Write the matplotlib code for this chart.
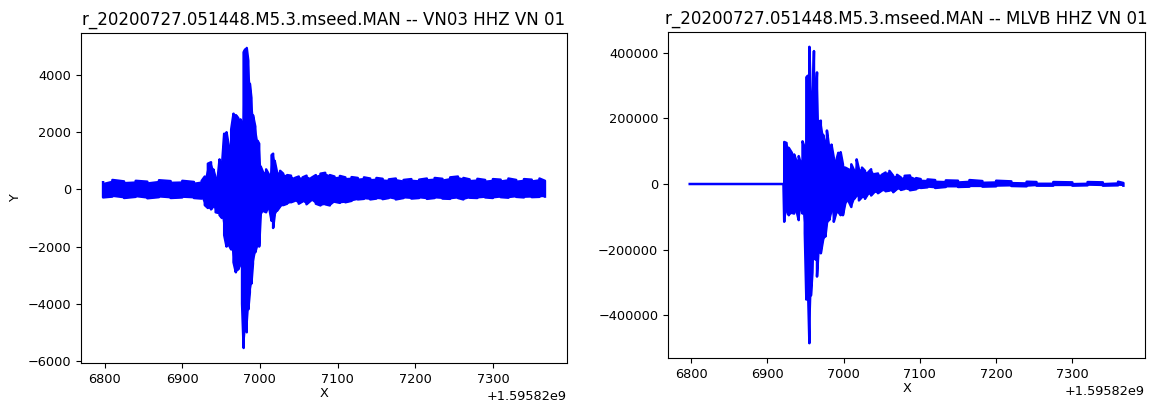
"""Seismogram envelopes, VN03 and MLVB"""

import matplotlib.pyplot as plt
import numpy as np

offset = 1.59582e9

# VN03 HHZ: time (s after offset), upper and lower envelope
t_vn03 = [6798, 6810, 6825, 6840, 6855, 6870, 6885, 6900, 6915, 6925,
          6929, 6933, 6937, 6940, 6943, 6946, 6948, 6951, 6954, 6957,
          6960, 6963, 6966, 6969, 6972, 6975, 6977, 6979, 6981, 6983,
          6985, 6987, 6989, 6991, 6994, 6997, 6999, 7001, 7004, 7008,
          7012, 7015, 7017, 7019, 7022, 7026, 7030, 7035, 7040, 7045,
          7050, 7055, 7060, 7066, 7072, 7078, 7084, 7090, 7096, 7103,
          7110, 7118, 7126, 7134, 7142, 7150, 7158, 7166, 7175, 7185,
          7195, 7205, 7215, 7225, 7235, 7245, 7255, 7262, 7270, 7280,
          7290, 7300, 7310, 7320, 7330, 7340, 7350, 7360, 7367]
hi_vn03 = [250, 330, 280, 300, 270, 320, 290, 300, 260, 300,
           450, 900, 950, 700, 400, 500, 1050, 800, 1950, 2000,
           1500, 2100, 2650, 2600, 2500, 2450, 2300, 4800, 4900, 4950,
           4500, 3700, 3200, 2600, 2200, 1700, 1600, 800, 600, 700,
           500, 1200, 1250, 1000, 600, 650, 550, 500, 480, 400,
           450, 420, 480, 400, 500, 550, 580, 500, 450, 470,
           420, 430, 400, 420, 380, 400, 370, 350, 380, 330,
           360, 340, 380, 400, 370, 420, 450, 400, 350, 370,
           330, 360, 340, 380, 330, 360, 340, 380, 300]
lo_vn03 = [-280, -250, -300, -260, -310, -270, -300, -280, -300, -320,
           -550, -650, -700, -600, -800, -820, -900, -1000, -1600, -2000,
           -1950, -2100, -2550, -2900, -2800, -2600, -4000, -5550, -4900, -5000,
           -4200, -3600, -3300, -2600, -2200, -1900, -2000, -900, -750, -800,
           -650, -1100, -1350, -900, -750, -600, -550, -500, -450, -400,
           -500, -420, -520, -380, -500, -560, -520, -560, -430, -470,
           -450, -400, -350, -330, -350, -320, -340, -300, -350, -300,
           -320, -300, -330, -300, -320, -330, -300, -350, -290, -300,
           -280, -300, -270, -290, -260, -280, -270, -260, -250]

# MLVB HHZ
t_mlvb = [6798, 6860, 6921, 6922, 6925, 6928, 6932, 6935, 6938, 6941,
          6944, 6946, 6949, 6951, 6953, 6955, 6957, 6959, 6961, 6963,
          6965, 6967, 6970, 6973, 6976, 6978, 6981, 6984, 6987, 6990,
          6993, 6996, 6999, 7002, 7006, 7010, 7014, 7017, 7020, 7024,
          7028, 7032, 7036, 7040, 7045, 7050, 7055, 7060, 7065, 7070,
          7075, 7080, 7087, 7095, 7101, 7110, 7120, 7134, 7150, 7165,
          7182, 7200, 7220, 7240, 7253, 7275, 7300, 7320, 7340, 7360,
          7367]
hi_mlvb = [0, 0, 0, 128000, 125000, 110000, 95000, 90000, 70000, 85000,
           60000, 130000, 110000, 325000, 330000, 418000, 250000, 180000, 405000, 250000,
           340000, 190000, 193000, 150000, 120000, 163000, 110000, 120000, 80000, 70000,
           95000, 97000, 60000, 50000, 45000, 60000, 40000, 75000, 45000, 50000,
           40000, 35000, 45000, 30000, 32000, 28000, 35000, 40000, 25000, 28000,
           20000, 25000, 26000, 18000, 15000, 14000, 12000, 11000, 10000, 12000,
           9000, 10000, 8000, 7000, 6000, 6000, 5000, 6000, 5000, 7000,
           3000]
lo_mlvb = [0, 0, 0, -115000, -80000, -95000, -88000, -90000, -80000, -110000,
           -70000, -90000, -150000, -352000, -300000, -485000, -340000, -270000, -210000, -230000,
           -282000, -200000, -211000, -170000, -160000, -120000, -110000, -80000, -115000, -90000,
           -85000, -95000, -95000, -60000, -50000, -70000, -45000, -35000, -50000, -40000,
           -45000, -30000, -35000, -25000, -28000, -20000, -22000, -20000, -25000, -15000,
           -18000, -15000, -19000, -16000, -12000, -10000, -12000, -9000, -9000, -8000,
           -8000, -7000, -6000, -7000, -5000, -5000, -5000, -4000, -5000, -4000,
           -5000]

titles = ["r_20200727.051448.M5.3.mseed.MAN -- VN03 HHZ VN 01",
          "r_20200727.051448.M5.3.mseed.MAN -- MLVB HHZ VN 01"]


def trace(ax, t, hi, lo):
    t = np.asarray(t, dtype=float) + offset
    hi = np.asarray(hi, dtype=float)
    lo = np.asarray(lo, dtype=float)
    # zigzag between the two envelopes so it draws like a dense waveform
    xs = np.repeat(t, 2)
    ys = np.empty_like(xs)
    ys[0::4] = hi[0::2]
    ys[1::4] = lo[0::2]
    ys[2::4] = lo[1::2]
    ys[3::4] = hi[1::2]
    ax.fill_between(t, lo, hi, color='blue', linewidth=0)
    ax.plot(xs, ys, color='blue', linewidth=1.8)


plt.rcParams['font.size'] = 9.3
fig = plt.figure(figsize=(11.52, 4.01), dpi=100)
ax1 = fig.add_axes([0.0703, 0.0948, 0.4219, 0.823])
ax2 = fig.add_axes([0.5799, 0.1072, 0.4141, 0.813])

trace(ax1, t_vn03, hi_vn03, lo_vn03)
trace(ax2, t_mlvb, hi_mlvb, lo_mlvb)

for ax, title in zip([ax1, ax2], titles):
    ax.set_title(title, fontsize=12)
    ax.set_xlabel("X", labelpad=1)
    ax.set_xticks(offset + np.arange(6800, 7301, 100))
ax1.set_ylabel("Y")

fig.savefig("out.png", dpi=100)
